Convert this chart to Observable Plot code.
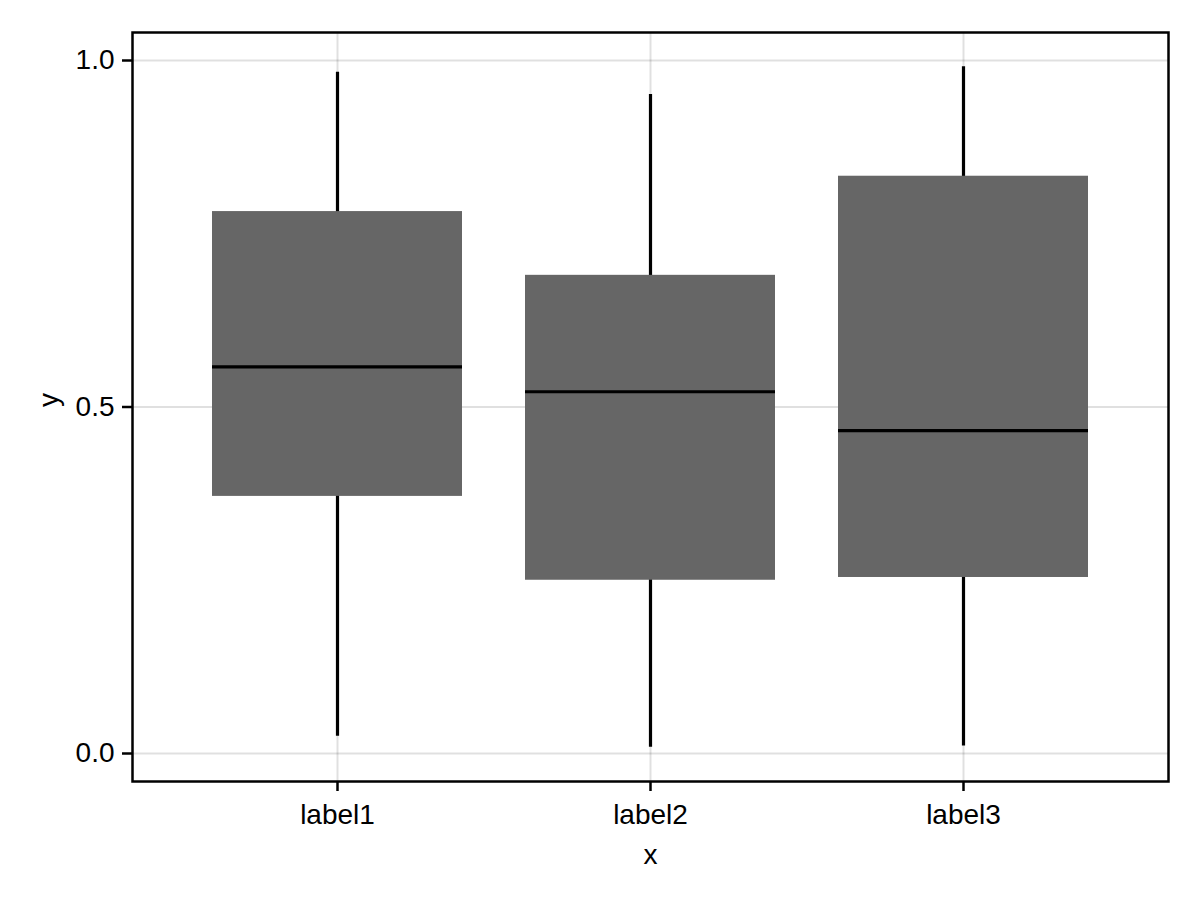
<!DOCTYPE html>
<html>
<head>
<meta charset="utf-8">
<script src="https://cdn.jsdelivr.net/npm/d3@7"></script>
<script src="https://cdn.jsdelivr.net/npm/@observablehq/plot@0.6"></script>
<style>
  html, body { margin: 0; padding: 0; background: #fff; }
  #chart svg { display: block; }
</style>
</head>
<body>
<div id="chart"></div>
<script>
// Chart values
const categories   = ["label1", "label2", "label3"];
const lowerWhisker = [0.025, 0.009, 0.011];
const q1           = [0.371, 0.250, 0.254];
const median       = [0.558, 0.522, 0.466];
const q3           = [0.782, 0.690, 0.833];
const upperWhisker = [0.983, 0.951, 0.991];
const yTicks       = [0.0, 0.5, 1.0];
const xLabel = "x";
const yLabel = "y";

const rows = categories.map((c, i) => ({
  cat: c, lo: lowerWhisker[i], q1: q1[i], med: median[i], q3: q3[i], hi: upperWhisker[i]
}));

const font = "'Liberation Sans', Arial, Helvetica, sans-serif";

const chart = Plot.plot({
  width: 1200,
  height: 900,
  marginLeft: 132,
  marginRight: 32,
  marginTop: 32,
  marginBottom: 119,
  style: { fontFamily: font, fontSize: "28px", background: "#fff", color: "#000" },
  x: { type: "band", domain: categories, paddingInner: 0.2, paddingOuter: 0.25, label: null },
  y: { domain: [-0.0404, 1.0404], label: null },
  marks: [
    Plot.gridX(categories, { stroke: "#000", strokeOpacity: 0.12, strokeWidth: 2 }),
    Plot.gridY(yTicks, { stroke: "#000", strokeOpacity: 0.12, strokeWidth: 2 }),
    Plot.ruleX(rows, { x: "cat", y1: "lo", y2: "hi", stroke: "#000", strokeWidth: 3.2 }),
    Plot.barY(rows, { x: "cat", y1: "q1", y2: "q3", fill: "#666666" }),
    Plot.tickY(rows, { x: "cat", y: "med", stroke: "#000", strokeWidth: 3.2 }),
    Plot.frame({ stroke: "#000", strokeWidth: 2.5 }),
    Plot.axisY(yTicks, {
      tickFormat: d3.format(".1f"), tickSize: 10, tickPadding: 8,
      strokeWidth: 2.5, fontSize: 28, label: null
    }),
    Plot.axisX(categories, {
      tickSize: 10, tickPadding: 13, strokeWidth: 2.5, fontSize: 28, label: null
    }),
    Plot.text([xLabel], { frameAnchor: "bottom", dy: 74, lineAnchor: "middle", fontSize: 28 }),
    Plot.text([yLabel], { frameAnchor: "left", dx: -83, rotate: -90, lineAnchor: "middle", fontSize: 28 })
  ]
});

document.getElementById("chart").appendChild(chart);
</script>
</body>
</html>
